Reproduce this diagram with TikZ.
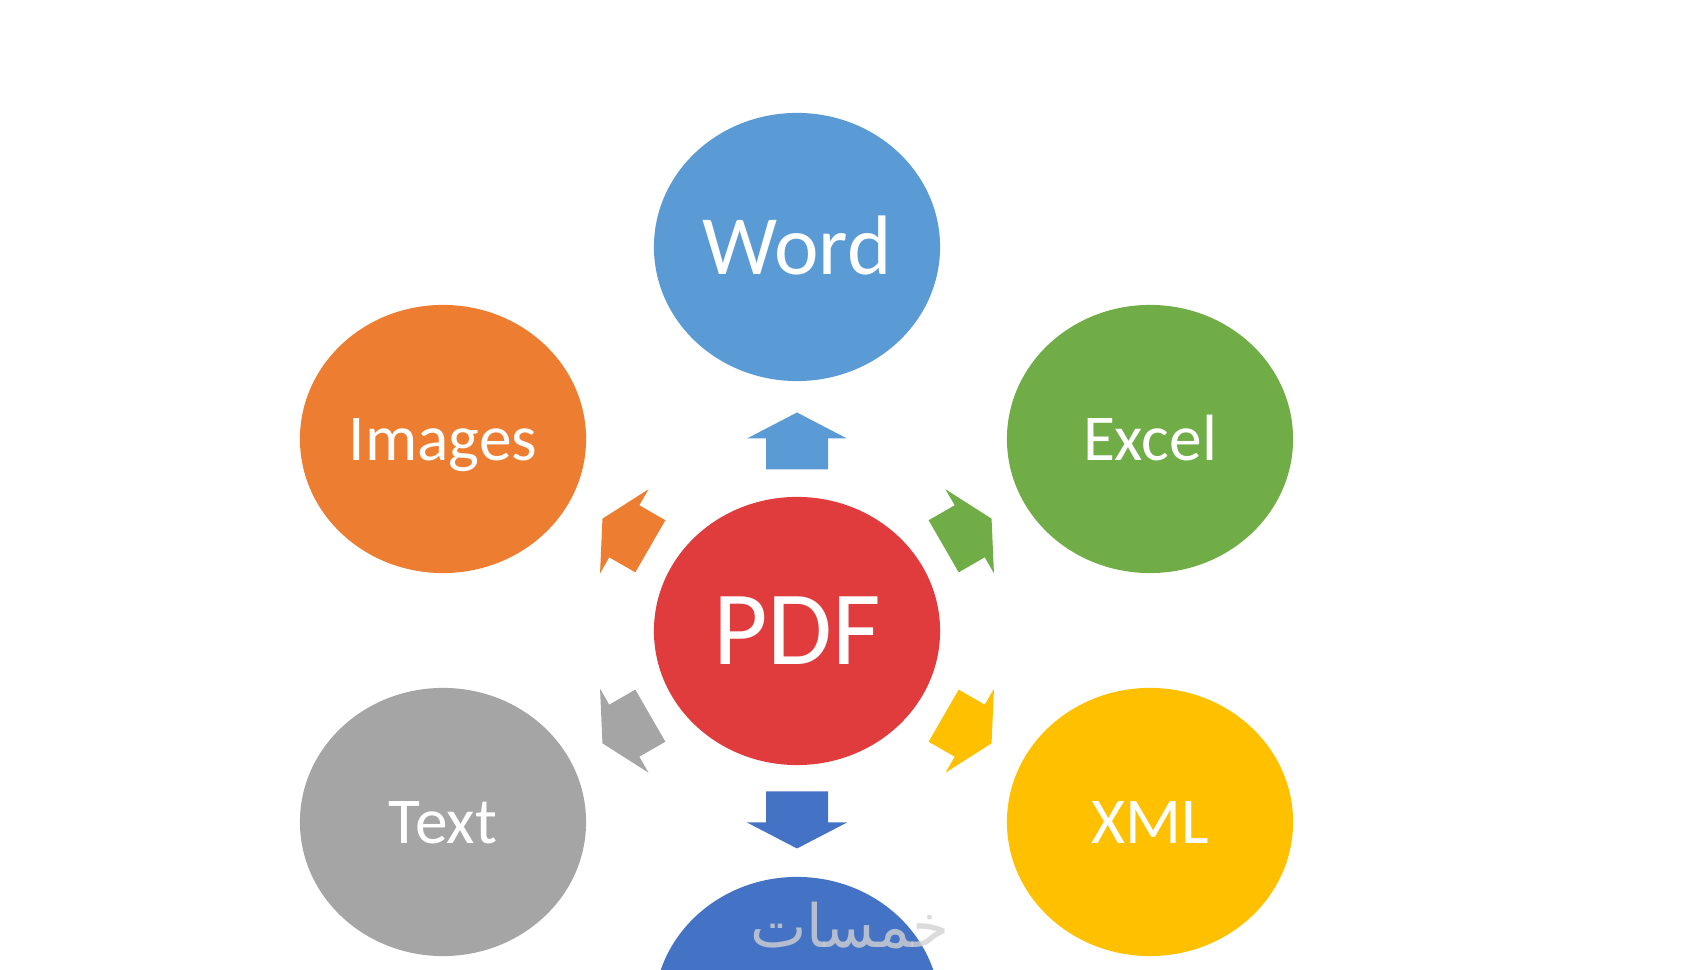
\documentclass[tikz,border=0pt]{standalone}
\usepackage{fontspec}
\setmainfont{Carlito}
\newfontfamily\arabicfont[Script=Arabic]{DejaVu Sans}
\TeXXeTstate=1
\usetikzlibrary{shapes.geometric}
\definecolor{wordblue}{HTML}{5B9BD5}
\definecolor{imgorange}{HTML}{ED7D31}
\definecolor{xlsgreen}{HTML}{70AD47}
\definecolor{pdfred}{HTML}{E03C3E}
\definecolor{txtgray}{HTML}{A5A5A5}
\definecolor{xmlyellow}{HTML}{FFC000}
\definecolor{moreblue}{HTML}{4472C4}
\tikzset{
  bigtext/.style={font=\fontsize{#1}{#1}\selectfont,
    text height=#1pt*0.644, text depth=0pt},
  bubble/.style={ellipse, fill=#1, text=white, inner sep=0pt,
    minimum width=2.86cm, minimum height=2.68cm, bigtext=18.6}
}
\begin{document}
\begin{tikzpicture}[x=0.01cm, y=0.01cm]
  \useasboundingbox (0,0) rectangle (1700,970);
  \clip (0,0) rectangle (1700,970);
  \path
    (797,339) node[bubble=pdfred, bigtext=30] (pdf) {PDF}
    (797,723) node[bubble=wordblue, bigtext=24] (word) {Word}
    (443,531) node[bubble=imgorange] (images) {Images}
    (1150,531) node[bubble=xlsgreen] (excel) {Excel}
    (443,148) node[bubble=txtgray] (text) {Text}
    (1150,148) node[bubble=xmlyellow] (xml) {XML}
    (797,-41) node[bubble=moreblue] (more) {};
  % block arrows round the centre
  \foreach \ang/\dist/\sc/\col in {90/190/1/wordblue, 150/197/0.97/imgorange,
      30/197/0.97/xlsgreen, 210/197/0.97/txtgray, 330/197/0.97/xmlyellow,
      270/189/1/moreblue}
    \fill[\col, shift={(pdf.center)}, rotate=\ang, shift={(\dist,0)}, scale=\sc]
      (-28.5,-31) -- (2.5,-31) -- (2.5,-50) -- (28.5,0) -- (2.5,50)
      -- (2.5,31) -- (-28.5,31) -- cycle;
  \node[text=gray!35, opacity=0.8, font=\fontsize{17}{17}\selectfont\arabicfont]
    (mark) at (850,44) {\beginR خمسات\endR};
\end{tikzpicture}
\end{document}
